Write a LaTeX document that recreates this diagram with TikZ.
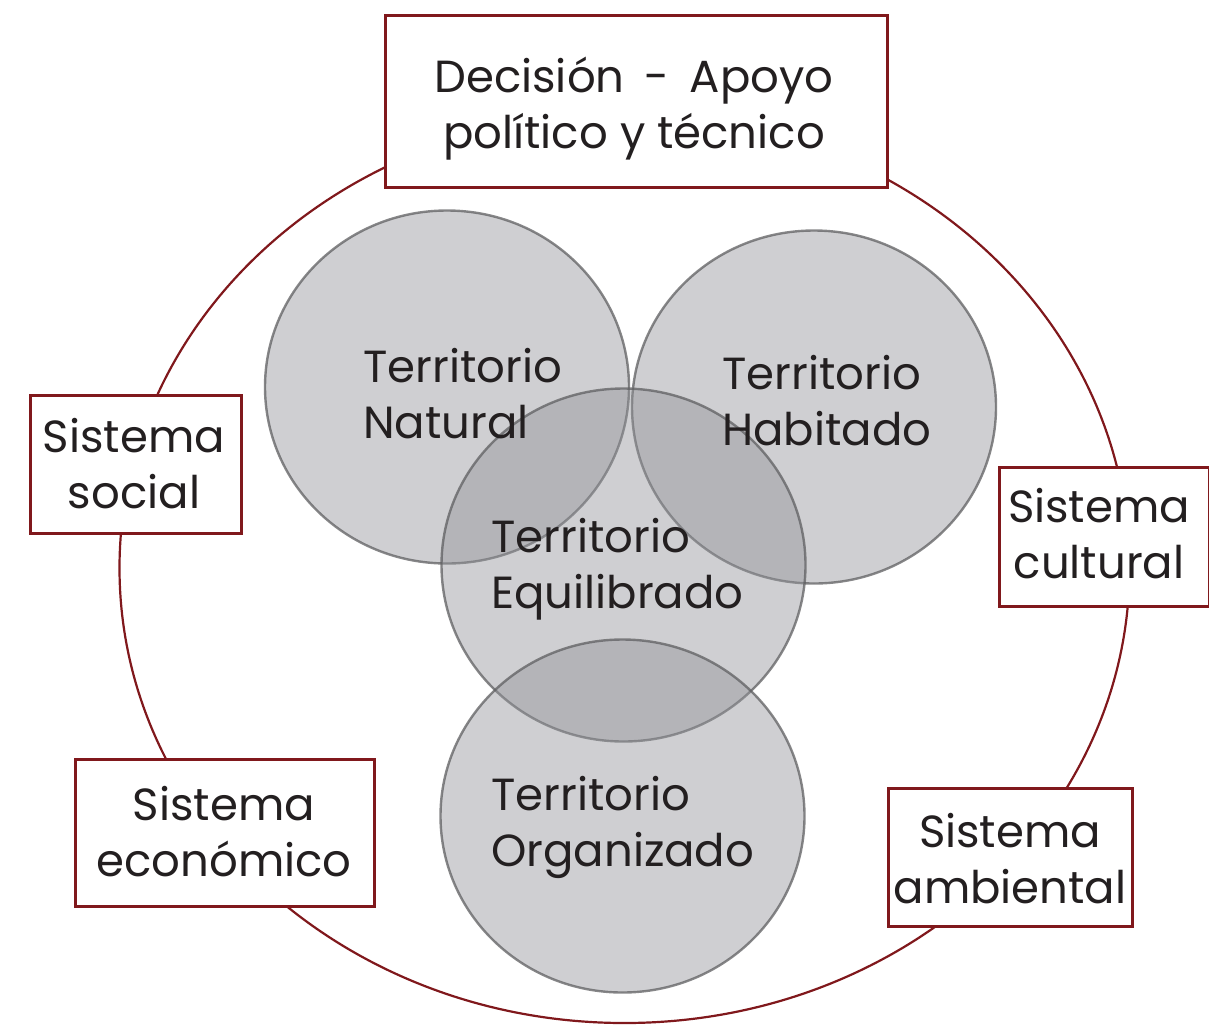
\documentclass[tikz,border=0pt]{standalone}
\usepackage{fontspec}
\setmainfont{Poppins}
\definecolor{boxred}{RGB}{128,24,28}
\definecolor{cfill}{RGB}{145,146,152}
\definecolor{cline}{RGB}{95,95,97}
\definecolor{txt}{RGB}{35,31,32}
\tikzset{
  sysbox/.style={draw=boxred, line width=2.6pt, fill=white, rectangle, inner sep=0pt},
  terr/.style={ellipse, draw=cline, draw opacity=0.75, line width=2.4pt, fill=cfill, fill opacity=0.44, inner sep=0pt},
  lbl/.style={text=txt, inner sep=0pt, font=\fontsize{45}{56}\selectfont},
}
\usetikzlibrary{shapes.geometric}
\begin{document}
\begin{tikzpicture}[x=1pt,y=-1pt]
\useasboundingbox (0,0) rectangle (1209,1026);
% outer ellipse
\node[ellipse, draw=boxred, line width=2.2pt, minimum width=1010pt, minimum height=910pt, inner sep=0pt] (outer) at (624.5,568) {};
% territory circles
\node[terr, minimum width=364pt, minimum height=353pt] (nat) at (447,387) {};
\node[terr, minimum width=364pt, minimum height=353pt] (hab) at (814,407) {};
\node[terr, minimum width=364pt, minimum height=353pt] (equ) at (623.5,565) {};
\node[terr, minimum width=364pt, minimum height=353pt] (org) at (622.5,816) {};
% boxes
\node[sysbox, minimum width=502pt, minimum height=172pt] (dec) at (636.5,101.5) {};
\node[sysbox, minimum width=211pt, minimum height=138pt] (soc) at (136,464.5) {};
\node[sysbox, minimum width=210pt, minimum height=139pt] (cul) at (1104.5,537) {};
\node[sysbox, minimum width=299pt, minimum height=147pt] (eco) at (225,833) {};
\node[sysbox, minimum width=244pt, minimum height=138pt] (amb) at (1010.5,857.5) {};
% labels (base anchor = baseline of the last line)
\node[lbl, align=center, anchor=base] (dect) at (634,148) {Decisión\hspace{0.45em}-\hspace{0.45em}Apoyo\\político y técnico};
\node[lbl, align=center, anchor=base] (soct) at (134,508) {Sistema\\social};
\node[lbl, align=center, anchor=base] (cult) at (1099,578) {Sistema\\cultural};
\node[lbl, align=center, anchor=base] (ecot) at (224,876) {Sistema\\económico};
\node[lbl, align=center, anchor=base] (ambt) at (1010,903) {Sistema\\ambiental};
\node[lbl, align=left, anchor=base west] (natt) at (363,438) {Territorio\\Natural};
\node[lbl, align=left, anchor=base west] (habt) at (722,445) {Territorio\\Habitado};
\node[lbl, align=left, anchor=base west] (equt) at (491,608) {Territorio\\Equilibrado};
\node[lbl, align=left, anchor=base west] (orgt) at (491,866) {Territorio\\Organizado};
\end{tikzpicture}
\end{document}
